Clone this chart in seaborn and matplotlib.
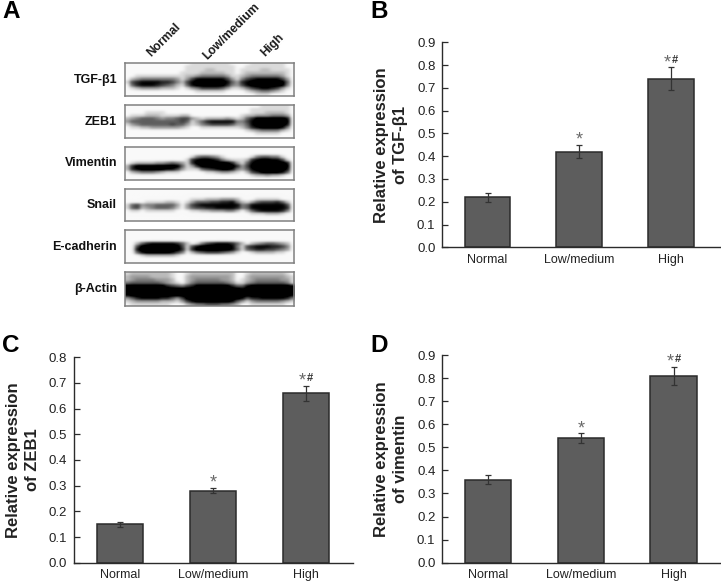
import numpy as np
import pandas as pd
import seaborn as sns
import matplotlib.pyplot as plt

groups = ['Normal', 'Low/medium', 'High']

tgf_vals = [0.22, 0.42, 0.74]
tgf_errs = [0.02, 0.03, 0.05]
zeb_vals = [0.15, 0.28, 0.66]
zeb_errs = [0.01, 0.01, 0.03]
vim_vals = [0.36, 0.54, 0.81]
vim_errs = [0.02, 0.02, 0.04]

tgf_ticks = [0.0, 0.1, 0.2, 0.3, 0.4, 0.5, 0.6, 0.7, 0.8, 0.9]
zeb_ticks = [0.0, 0.1, 0.2, 0.3, 0.4, 0.5, 0.6, 0.7, 0.8]
vim_ticks = [0.0, 0.1, 0.2, 0.3, 0.4, 0.5, 0.6, 0.7, 0.8, 0.9]

blot_labels = ['TGF-β1', 'ZEB1', 'Vimentin', 'Snail', 'E-cadherin', 'β-Actin']

# band darkness read from the blot, 0 = paper, 9 = black
blot_tgf = [
    '0000000000000111111110000111111100',
    '0000000000001111111111001111111100',
    '0000000000001111221111011112211110',
    '0000000000011112222211012222222210',
    '0011111111112234444431123444444310',
    '0234444444313688888863146788888630',
    '1678888776426899999985378999999950',
    '0578887654215899999974368999999940',
    '0123333222101346666531124678876310',
    '0000000000000011111100001234432100',
    '0000000000000000000000000011100000',
]
blot_zeb = [
    '0000000000000000000000000001111110',
    '0000000000000000000000000111111110',
    '0000111100000000000000000111222210',
    '0111222111122000000000012233344430',
    '2345554344566321222232125799999980',
    '3555555555565135788888446899999990',
    '1345555556553124566665335899999980',
    '0112233333321001111111124789999840',
    '0000000000000000000000001234444210',
    '0000000000000000000000000011111000',
    '0000000000000000000000000000000000',
]
blot_vim = [
    '0000000000000000000000000000000000',
    '0000000000000000000000000000000000',
    '0000000000000000000000000000000000',
    '0000000000000145543100000145544100',
    '0000000000001789987421112789988610',
    '0122223345431799999997315899999980',
    '2799999999951379999999736999999990',
    '2789999988631115678998435899999980',
    '0234443211100000112332102679999850',
    '0000000000000000000000000122322100',
    '0000000000000000000000000000000000',
]
blot_snail = [
    '0000000000000000000000000000000000',
    '0000000000000000000000000000000000',
    '0000000000000000000000000000000000',
    '0000000000000111222333200011111000',
    '0000111122101355566778421356667520',
    '1563445555303678888999845899999960',
    '1562345554203566778899745899999970',
    '0110111111000112233344202578888740',
    '0000000000000000000000000111222100',
    '0000000000000000000000000000000000',
    '0000000000000000000000000000000000',
]
blot_ecad = [
    '0000000000000000000000000000000000',
    '0000000000000000000000000000000000',
    '0000000000000000000000000000000000',
    '0000000000000000000000000000000000',
    '0025788888752014678887520234554320',
    '0069999999961689999998416788877640',
    '0089999999971799999998515677665430',
    '0058999998640245666543100122221100',
    '0001222222100000000000000000000000',
    '0000000000000000000000000000000000',
    '0000000000000000000000000000000000',
]
blot_actin = [
    '1222222221001222222222001222222210',
    '2333322221002333333332002333333321',
    '2344443332002344444332012344444331',
    '4555555432102455555543113455555541',
    '9999999976546799999997558999999998',
    '9999999999999999999999989999999999',
    '9999999999999999999999999999999999',
    '8999999999999999999999999999999998',
    '3578888775369999999999985778888874',
    '1233333222136899999998531344444321',
    '0111111110002344555443200111111100',
]
blots = [blot_tgf, blot_zeb, blot_vim, blot_snail, blot_ecad, blot_actin]

W, H = 721, 581
BAR = '#5d5d5d'
DARK = '#2b2b2b'

sns.set_theme(style='ticks')
plt.rcParams['font.family'] = ['Liberation Sans', 'DejaVu Sans']

fig = plt.figure(figsize=(W / 100, H / 100), dpi=100, facecolor='white')


# axes from pixel box (y counted from the top, like the picture)
def px_axes(x0, y0, x1, y1):
    return fig.add_axes([x0 / W, 1 - y1 / H, (x1 - x0) / W, (y1 - y0) / H])


def blot_panel(rows, label, y0, y1):
    ax = px_axes(124.7, y0, 294.3, y1)
    img = np.array([[int(c) for c in r.ljust(34, '0')[:34]] for r in rows])
    ax.imshow(img, cmap='gray_r', vmin=-0.2, vmax=8, aspect='auto', interpolation='gaussian')
    ax.set_xticks([])
    ax.set_yticks([])
    for s in ax.spines.values():
        s.set_color('#808080')
        s.set_linewidth(1.1)
    fig.text(117 / W, 1 - (y0 + y1) / 2 / H, label, fontsize=9, fontweight='bold',
             ha='right', va='center', color='#111111')


def bar_panel(box, vals, errs, ticks, ylim, x_right, ylabel, letter, letter_xy):
    ax = px_axes(*box)
    df = pd.DataFrame({'group': groups, 'value': vals})
    sns.barplot(data=df, x='group', y='value', color=BAR, saturation=1, width=0.5,
                edgecolor=DARK, linewidth=1.1, errorbar=None, ax=ax)
    ax.errorbar(range(len(vals)), vals, yerr=errs, fmt='none', ecolor='#333333',
                elinewidth=0.9, capsize=2, capthick=0.9)
    ax.set_xlim(-0.5, x_right)
    ax.set_ylim(*ylim)
    ax.set_yticks(ticks)
    ax.set_yticklabels(['%.1f' % t for t in ticks])
    ax.set_xlabel('')
    ax.set_ylabel(ylabel, fontsize=12, fontweight='bold', color='#222222',
                  va='center', ha='center', linespacing=1.3)
    ax.yaxis.set_label_coords(-0.182, 0.5)
    ax.tick_params(axis='y', direction='in', length=4.5, width=0.9, color=DARK,
                   labelsize=9.5, labelcolor='#222222', pad=4.5)
    ax.tick_params(axis='x', direction='in', length=3.5, width=0.9, color=DARK,
                   labelsize=9, labelcolor='#222222', pad=4.5)
    sns.despine(ax=ax)
    ax.spines['left'].set_color(DARK)
    ax.spines['bottom'].set_color(DARK)
    ax.spines['left'].set_linewidth(1.0)
    ax.spines['bottom'].set_linewidth(1.0)

    # significance marks sit on top of the error caps
    star = dict(ha='center', va='center', textcoords='offset points', fontsize=13, color='#6a6a6a')
    top = vals[1] + errs[1]
    ax.annotate('*', (1, top), xytext=(0, 3.5), **star)
    top = vals[2] + errs[2]
    ax.annotate('*', (2, top), xytext=(-2.5, 3.5), **star)
    ax.annotate('#', (2, top), xytext=(3, 5.5), ha='center', va='center',
                textcoords='offset points', fontsize=8, color='#333333', fontweight='bold')

    fig.text(letter_xy[0] / W, 1 - letter_xy[1] / H, letter, fontsize=17.5, fontweight='bold',
             ha='left', va='baseline', color='black')


blot_boxes = [(63.3, 96.3), (105.3, 138), (146.7, 180.3), (189.3, 221), (230.3, 263.3), (272.3, 305.7)]
for rows, label, (y0, y1) in zip(blots, blot_labels, blot_boxes):
    blot_panel(rows, label, y0, y1)

for name, x, y in zip(groups, [153, 209, 267], [59, 62, 59]):
    fig.text(x / W, 1 - y / H, name, fontsize=8.7, fontweight='bold', rotation=45, rotation_mode='anchor',
             ha='left', va='bottom', color='#1a1a1a')

fig.text(2 / W, 1 - 18 / H, 'A', fontsize=17.5, fontweight='bold', ha='left', va='baseline', color='black')

bar_panel((441.7, 42.3, 720, 247.3), tgf_vals, tgf_errs, tgf_ticks, (0, 0.9), 2.535,
          'Relative expression\nof TGF-β1', 'B', (370, 18))
bar_panel((73.5, 357.3, 352.5, 562.7), zeb_vals, zeb_errs, zeb_ticks, (0, 0.8), 2.5,
          'Relative expression\nof ZEB1', 'C', (2, 352))
bar_panel((441.7, 355, 720, 562.7), vim_vals, vim_errs, vim_ticks, (0, 0.9), 2.5,
          'Relative expression\nof vimentin', 'D', (370, 352))

fig.savefig('out.png', dpi=100)
